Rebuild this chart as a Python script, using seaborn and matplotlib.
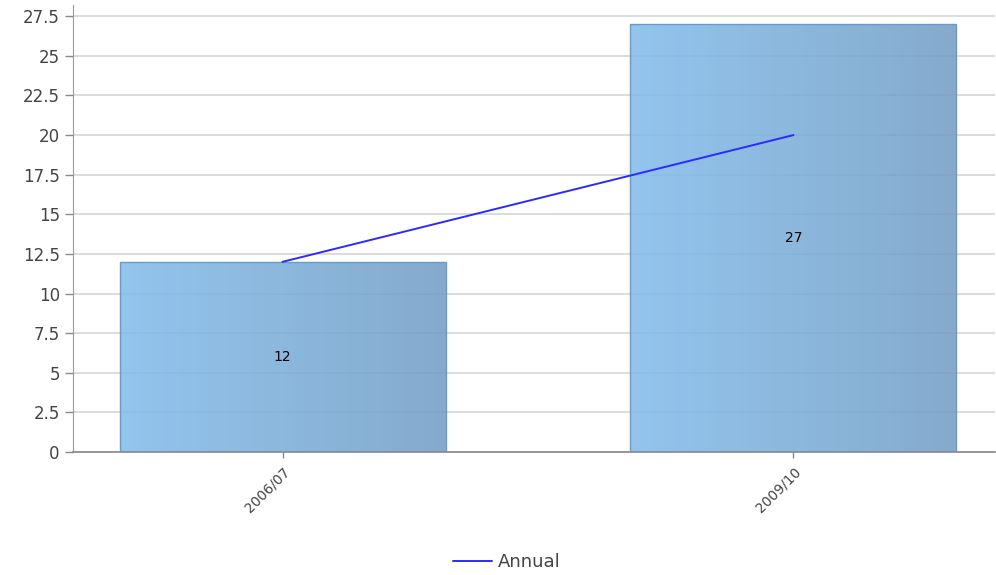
import numpy as np
import pandas as pd
import matplotlib
matplotlib.use("Agg")
import matplotlib.pyplot as plt
import seaborn as sns
from matplotlib.colors import LinearSegmentedColormap

# data
periods = ["2006/07", "2009/10"]
bar_values = [12, 27]
annual_values = [12, 20]

df = pd.DataFrame({"period": periods, "value": bar_values, "annual": annual_values})

sns.set_style("white")
plt.rcParams["font.family"] = ["DejaVu Sans"]

fig = plt.figure(figsize=(9.96, 5.75), dpi=100)
ax = fig.add_axes([0.0733, 0.214, 0.926, 0.777])

# bars, gradient fill added afterwards
sns.barplot(data=df, x="period", y="value", ax=ax, width=0.638,
            color="#8ab8e0", edgecolor="#6a9bc7", linewidth=1, zorder=2)

grad = LinearSegmentedColormap.from_list("bargrad", ["#84bdec", "#749fc6"])
ax.set_xlim(-0.41, 1.395)
ax.set_ylim(0, 28.2)
for p in ax.patches:
    x0, y0 = p.get_x(), p.get_y()
    w, h = p.get_width(), p.get_height()
    img = ax.imshow(np.linspace(0, 1, 256).reshape(1, -1), cmap=grad, aspect="auto",
                    extent=[x0, x0 + w, y0, y0 + h], alpha=0.88, zorder=2)
    img.set_clip_path(p)
    p.set_facecolor("none")
    p.set_zorder(3)
ax.set_xlim(-0.41, 1.395)
ax.set_ylim(0, 28.2)

# bar labels in middle of the bar
for i, v in enumerate(bar_values):
    ax.text(i, v / 2, str(v), ha="center", va="center", fontsize=10, color="black", zorder=5)

# annual line
sns.lineplot(x=[0, 1], y=annual_values, ax=ax, color="#2b2bff", linewidth=1.4,
             label="Annual", zorder=4)

ax.set_yticks(np.arange(0, 27.6, 2.5))
ax.set_yticklabels(["0", "2.5", "5", "7.5", "10", "12.5", "15", "17.5", "20", "22.5", "25", "27.5"])
ax.yaxis.grid(True, color="#d6d6d6", linewidth=1.2, zorder=0)
ax.set_axisbelow(True)
ax.set_xlabel("")
ax.set_ylabel("")
for lbl in ax.get_xticklabels():
    lbl.set_rotation(45)
    lbl.set_ha("right")
    lbl.set_rotation_mode("anchor")
    lbl.set_fontsize(10)
    lbl.set_color("#444444")
ax.tick_params(axis="y", labelsize=12, colors="#444444", left=True, length=6,
               width=1, color="#888888")
ax.tick_params(axis="x", bottom=True, length=4, width=1, color="#888888", pad=5)
for s in ["top", "right"]:
    ax.spines[s].set_visible(False)
ax.spines["left"].set_color("#999999")
ax.spines["bottom"].set_color("#888888")
ax.spines["bottom"].set_linewidth(1.2)

leg = ax.legend(loc="upper center", bbox_to_anchor=(0.47, -0.19), frameon=False,
                fontsize=13, handlelength=2.2, handletextpad=0.3)
for t in leg.get_texts():
    t.set_color("#444444")

fig.savefig("out.png", dpi=100)
